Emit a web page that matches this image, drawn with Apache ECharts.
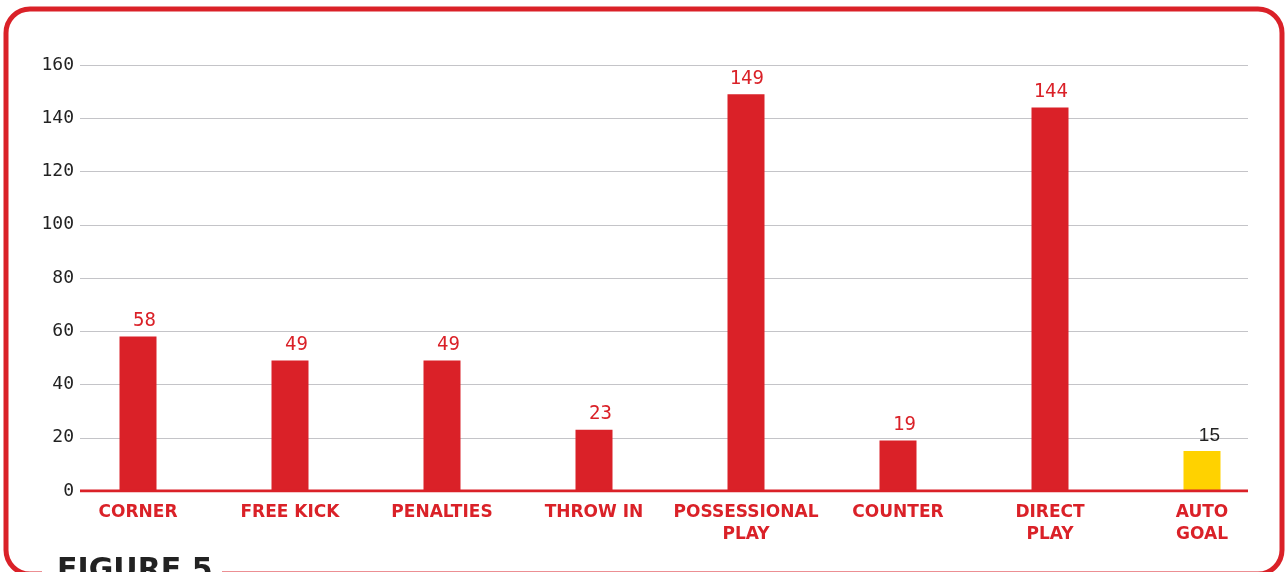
<!DOCTYPE html>
<html><head><meta charset="utf-8">
<script src="https://cdn.jsdelivr.net/npm/echarts@6/dist/echarts.min.js"></script>
<style>html,body{margin:0;padding:0;background:#fff}#c{width:1287px;height:572px}</style>
</head><body><div id="c"></div>
<script>
const categories = ['CORNER','FREE KICK','PENALTIES','THROW IN','POSSESSIONAL\nPLAY','COUNTER','DIRECT\nPLAY','AUTO\nGOAL'];
const values = [58,49,49,23,149,19,144,15];
const highlight = [false,false,false,false,false,false,false,true];
const yTicks = {min:0,max:160,interval:20};
const RED = '#DA2128', YELLOW = '#FFD200';

const chart = echarts.init(document.getElementById('c'));
chart.setOption({
  animation:false,
  grid:[
    {left:80,right:39,top:65,bottom:81},
    {left:62,right:9,top:65,bottom:81}
  ],
  xAxis:[
    {gridIndex:0,type:'value',min:0,max:1,show:true,axisLabel:{show:false},axisTick:{show:false},splitLine:{show:false},axisLine:{show:false}},
    {gridIndex:1,type:'category',data:categories,
     axisLine:{show:false},axisTick:{show:false},
     axisLabel:{interval:0,color:RED,fontFamily:'DejaVu Sans',fontWeight:'bold',fontSize:17,lineHeight:22,margin:11,align:'center'}}
  ],
  yAxis:[
    {gridIndex:0,type:'value',min:yTicks.min,max:yTicks.max,interval:yTicks.interval,
     axisLine:{show:false},axisTick:{show:false},
     axisLabel:{color:'#222',fontFamily:'DejaVu Sans Mono',fontSize:18,margin:6},
     splitLine:{lineStyle:{color:'#c4c4c8',width:1}}},
    {gridIndex:1,type:'value',min:yTicks.min,max:yTicks.max,interval:yTicks.interval,show:false,splitLine:{show:false}}
  ],
  series:[
    {type:'bar',xAxisIndex:1,yAxisIndex:1,barWidth:37,z:3,
     data:values.map((v,i)=>({value:v,
       itemStyle:{color:highlight[i]?YELLOW:RED},
       label:highlight[i]?{color:'#222',fontFamily:'Liberation Sans',fontSize:19}:{}})),
     label:{show:true,position:'top',align:'right',offset:[18,-1],distance:5,color:RED,fontFamily:'DejaVu Sans Mono',fontSize:19}},
    {type:'line',xAxisIndex:0,yAxisIndex:0,data:[[0,0],[1,0]],symbol:'none',z:5,
     lineStyle:{color:RED,width:3},silent:true}
  ],
  graphic:[
    {type:'rect',shape:{x:6,y:9,width:1276,height:565,r:24},style:{fill:'none',stroke:RED,lineWidth:5},z:0},
    {type:'rect',shape:{x:42,y:556,width:180,height:20},style:{fill:'#fff'},z:1},
    {type:'text',left:57,top:556,style:{text:'FIGURE 5',fill:'#222',font:'bold 30px "DejaVu Sans"'},z:2}
  ]
});
</script></body></html>
